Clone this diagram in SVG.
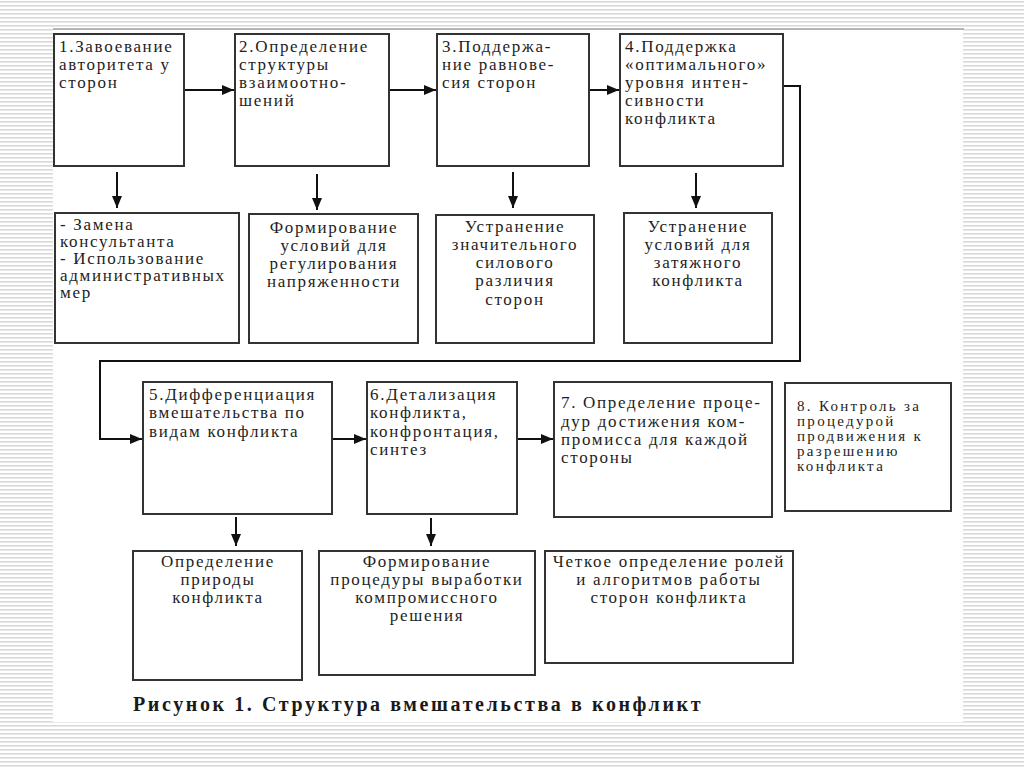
<svg xmlns="http://www.w3.org/2000/svg" width="1024" height="767" viewBox="0 0 1024 767">
<defs>
<pattern id="stripes" x="0" y="0" width="8" height="4" patternUnits="userSpaceOnUse">
<rect x="0" y="0" width="8" height="4" fill="#ffffff"/>
<rect x="0" y="1" width="8" height="1.6" fill="#d9d9d9"/>
</pattern>
<marker id="ah" viewBox="0 0 12 10" refX="12" refY="5" markerWidth="12" markerHeight="10" markerUnits="userSpaceOnUse" orient="auto">
<path d="M0,0 L12,5 L0,10 Z" fill="#111"/>
</marker>
<style>
.box{fill:#ffffff;stroke:#333;stroke-width:2}
.t{font-family:"Liberation Serif","Times New Roman",serif;font-size:17px;fill:#1e1e1e;letter-spacing:1.7px}
.s{font-size:15px;letter-spacing:2.3px}
.c{text-anchor:middle}
.cap{font-family:"Liberation Serif","Times New Roman",serif;font-size:20px;font-weight:bold;fill:#1a1a1a;letter-spacing:2.6px}
.ln{fill:none;stroke:#111;stroke-width:2}
</style>
</defs>
<rect x="0" y="0" width="1024" height="767" fill="url(#stripes)"/>
<rect x="53" y="28" width="910" height="694" fill="#ffffff"/>
<line x1="53" y1="29" x2="964" y2="29" stroke="#b5b5b5" stroke-width="2"/>

<g id="connectors">
<line class="ln" x1="184" y1="90" x2="234" y2="90" marker-end="url(#ah)"/>
<line class="ln" x1="389" y1="90" x2="436" y2="90" marker-end="url(#ah)"/>
<line class="ln" x1="589" y1="90" x2="619" y2="90" marker-end="url(#ah)"/>
<polyline class="ln" points="783,86 800,86 800,361 100,361 100,439 142,439" marker-end="url(#ah)"/>
<line class="ln" x1="332" y1="439" x2="366" y2="439" marker-end="url(#ah)"/>
<line class="ln" x1="517" y1="439" x2="553" y2="439" marker-end="url(#ah)"/>
<line class="ln" x1="117" y1="172" x2="117" y2="208" marker-end="url(#ah)"/>
<line class="ln" x1="317" y1="174" x2="317" y2="210" marker-end="url(#ah)"/>
<line class="ln" x1="513" y1="172" x2="513" y2="208" marker-end="url(#ah)"/>
<line class="ln" x1="696" y1="173" x2="696" y2="208" marker-end="url(#ah)"/>
<line class="ln" x1="236" y1="517" x2="236" y2="546" marker-end="url(#ah)"/>
<line class="ln" x1="431" y1="518" x2="431" y2="546" marker-end="url(#ah)"/>
</g>

<g id="n1"><rect class="box" x="54" y="34" width="130" height="132"/>
<text class="t" x="59" y="52">1.Завоевание</text><text class="t" x="59" y="70">авторитета у</text><text class="t" x="59" y="88">сторон</text></g>
<g id="n2"><rect class="box" x="235" y="34" width="154" height="132"/>
<text class="t" x="239" y="52">2.Определение</text><text class="t" x="239" y="70">структуры</text><text class="t" x="239" y="88">взаимоотно-</text><text class="t" x="239" y="106">шений</text></g>
<g id="n3"><rect class="box" x="437" y="34" width="152" height="132"/>
<text class="t" x="442" y="52">3.Поддержа-</text><text class="t" x="442" y="70">ние равнове-</text><text class="t" x="442" y="88">сия сторон</text></g>
<g id="n4"><rect class="box" x="620" y="34" width="163" height="132"/>
<text class="t" x="625" y="52">4.Поддержка</text><text class="t" x="625" y="70">«оптимального»</text><text class="t" x="625" y="88">уровня интен-</text><text class="t" x="625" y="106">сивности</text><text class="t" x="625" y="124">конфликта</text></g>

<g id="n1a"><rect class="box" x="55" y="213" width="184" height="130"/>
<text class="t" x="60" y="230">- Замена</text><text class="t" x="60" y="247">консультанта</text><text class="t" x="60" y="264">- Использование</text><text class="t" x="60" y="281">административных</text><text class="t" x="60" y="298">мер</text></g>
<g id="n2a"><rect class="box" x="249" y="214" width="169" height="129"/>
<text class="t c" x="334" y="233">Формирование</text><text class="t c" x="334" y="251">условий для</text><text class="t c" x="334" y="269">регулирования</text><text class="t c" x="334" y="287">напряженности</text></g>
<g id="n3a"><rect class="box" x="436" y="215" width="158" height="128"/>
<text class="t c" x="515" y="232">Устранение</text><text class="t c" x="515" y="250">значительного</text><text class="t c" x="515" y="268">силового</text><text class="t c" x="515" y="286">различия</text><text class="t c" x="515" y="305">сторон</text></g>
<g id="n4a"><rect class="box" x="624" y="213" width="148" height="130"/>
<text class="t c" x="698" y="232">Устранение</text><text class="t c" x="698" y="250">условий для</text><text class="t c" x="698" y="268">затяжного</text><text class="t c" x="698" y="286">конфликта</text></g>

<g id="n5"><rect class="box" x="143" y="382" width="189" height="132"/>
<text class="t" x="149" y="400">5.Дифференциация</text><text class="t" x="149" y="418">вмешательства по</text><text class="t" x="149" y="437">видам конфликта</text></g>
<g id="n6"><rect class="box" x="367" y="382" width="150" height="132"/>
<text class="t" x="370" y="400">6.Детализация</text><text class="t" x="370" y="418">конфликта,</text><text class="t" x="370" y="437">конфронтация,</text><text class="t" x="370" y="455">синтез</text></g>
<g id="n7"><rect class="box" x="554" y="382" width="218" height="135"/>
<text class="t" x="561" y="408">7. Определение проце-</text><text class="t" x="561" y="427">дур достижения ком-</text><text class="t" x="561" y="445">промисса для каждой</text><text class="t" x="561" y="463">стороны</text></g>
<g id="n8"><rect class="box" x="785" y="383" width="166" height="128"/>
<text class="t s" x="797" y="411">8. Контроль за</text><text class="t s" x="797" y="426">процедурой</text><text class="t s" x="797" y="441">продвижения к</text><text class="t s" x="797" y="456">разрешению</text><text class="t s" x="797" y="471">конфликта</text></g>

<g id="n5a"><rect class="box" x="133" y="551" width="169" height="129"/>
<text class="t c" x="218" y="567">Определение</text><text class="t c" x="218" y="585">природы</text><text class="t c" x="218" y="603">конфликта</text></g>
<g id="n6a"><rect class="box" x="319" y="551" width="216" height="124"/>
<text class="t c" x="427" y="567">Формирование</text><text class="t c" x="427" y="585">процедуры выработки</text><text class="t c" x="427" y="603">компромиссного</text><text class="t c" x="427" y="621">решения</text></g>
<g id="n7a"><rect class="box" x="545" y="551" width="248" height="112"/>
<text class="t c" x="669" y="567">Четкое определение ролей</text><text class="t c" x="669" y="585">и алгоритмов работы</text><text class="t c" x="669" y="603">сторон конфликта</text></g>

<text class="cap" x="133" y="711">Рисунок 1. Структура вмешательства в конфликт</text>
</svg>
